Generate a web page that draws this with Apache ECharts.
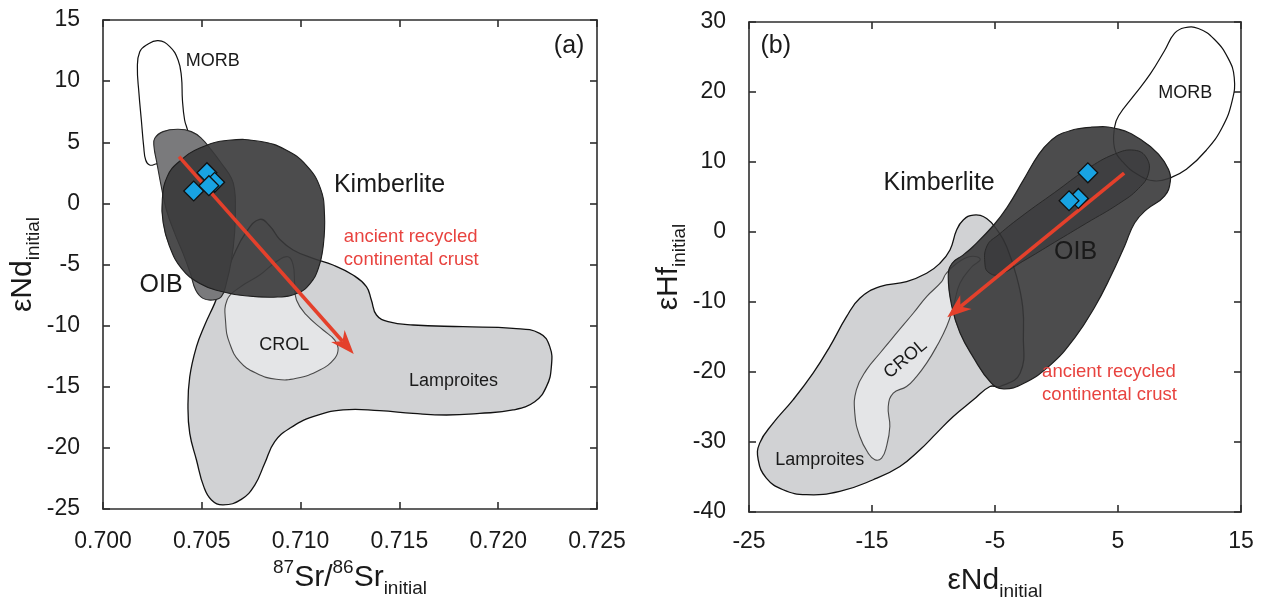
<!DOCTYPE html>
<html>
<head>
<meta charset="utf-8">
<script src="https://cdn.jsdelivr.net/npm/echarts/dist/echarts.min.js"></script>
<style>
html,body{margin:0;padding:0;background:#fff;}
#c{width:1265px;height:601px;}
</style>
</head>
<body>
<div id="c"></div>
<script>
// ---------- DATA (panel a: 87Sr/86Sr vs eNd) ----------
const srTicks = [0.700, 0.705, 0.710, 0.715, 0.720, 0.725];
const ndTicksA = [-25, -20, -15, -10, -5, 0, 5, 10, 15];
const lamproitesA = [[0.70793,-1.31],[0.70844,-1.85],[0.70894,-2.94],[0.70962,-3.81],[0.71063,-4.50],[0.71164,-5.04],[0.71265,-5.86],[0.71333,-6.81],[0.71358,-7.90],[0.71384,-9.13],[0.71443,-9.68],[0.71569,-9.95],[0.71822,-10.09],[0.72075,-10.22],[0.72210,-10.63],[0.72261,-11.72],[0.72269,-13.36],[0.72244,-14.99],[0.72185,-16.22],[0.72075,-16.90],[0.71906,-17.18],[0.71738,-17.31],[0.71569,-17.18],[0.71400,-16.96],[0.71215,-16.90],[0.71063,-17.45],[0.70945,-18.40],[0.70869,-19.49],[0.70818,-21.27],[0.70768,-23.04],[0.70700,-24.21],[0.70608,-24.67],[0.70549,-24.26],[0.70510,-23.17],[0.70473,-20.99],[0.70439,-18.81],[0.70430,-16.63],[0.70439,-14.18],[0.70473,-11.72],[0.70515,-9.95],[0.70565,-8.18],[0.70608,-6.40],[0.70658,-4.36],[0.70726,-2.31]];
const crolA = [[0.70936,-4.36],[0.70962,-5.04],[0.70970,-6.54],[0.70979,-7.90],[0.71029,-9.13],[0.71114,-10.36],[0.71173,-11.18],[0.71190,-11.86],[0.71173,-12.68],[0.71097,-13.63],[0.70979,-14.31],[0.70877,-14.39],[0.70776,-13.90],[0.70692,-12.95],[0.70641,-11.45],[0.70621,-9.81],[0.70628,-7.90],[0.70692,-6.87],[0.70793,-5.86],[0.70877,-4.77]];
const morbA = [[0.70220,12.96],[0.70279,13.31],[0.70338,12.82],[0.70380,11.73],[0.70397,10.36],[0.70402,8.46],[0.70413,6.82],[0.70430,5.73],[0.70422,4.09],[0.70338,3.55],[0.70267,3.22],[0.70236,3.14],[0.70216,3.55],[0.70206,4.64],[0.70194,6.82],[0.70182,9.00],[0.70174,11.18],[0.70186,12.41]];
const oibA = [[0.70262,5.32],[0.70304,5.87],[0.70380,6.06],[0.70447,5.87],[0.70498,5.32],[0.70548,4.37],[0.70599,3.28],[0.70650,2.05],[0.70666,1.09],[0.70670,-0.27],[0.70666,-2.45],[0.70650,-4.63],[0.70624,-6.54],[0.70599,-7.63],[0.70557,-7.90],[0.70506,-7.77],[0.70469,-7.09],[0.70442,-5.72],[0.70405,-4.09],[0.70363,-2.45],[0.70321,-0.54],[0.70295,1.37],[0.70273,3.28],[0.70258,4.64]];
const kimberliteA = [[0.70635,5.16],[0.70800,5.06],[0.70924,4.38],[0.71028,3.13],[0.71100,1.25],[0.71121,-0.94],[0.71115,-3.44],[0.71090,-5.31],[0.71048,-6.56],[0.70986,-7.34],[0.70883,-7.66],[0.70718,-7.56],[0.70594,-7.19],[0.70490,-6.56],[0.70397,-5.31],[0.70335,-3.44],[0.70304,-1.56],[0.70300,0.31],[0.70325,2.19],[0.70387,3.44],[0.70490,4.53]];
const sampleSr = [0.70526, 0.70565, 0.70459, 0.70536];
const sampleNdA = [2.51, 1.72, 1.01, 1.45];
const arrowA = [0.70385, 3.82, 0.71269, -12.32];

// ---------- DATA (panel b: eNd vs eHf) ----------
const ndTicksB = [-25, -15, -5, 5, 15];
const hfTicks = [-40, -30, -20, -10, 0, 10, 20, 30];
const lamproitesB = [[-6.76,2.42],[-5.68,1.94],[-4.73,0.04],[-4.05,-2.10],[-3.24,-6.38],[-2.75,-10.66],[-2.69,-14.46],[-2.96,-20.17],[-4.59,-22.07],[-5.41,-22.07],[-6.76,-23.98],[-8.39,-26.35],[-9.75,-28.73],[-11.10,-31.11],[-12.73,-33.49],[-14.90,-35.39],[-17.62,-37.06],[-20.33,-37.53],[-22.23,-36.82],[-23.59,-35.15],[-24.25,-32.54],[-24.13,-30.16],[-23.04,-27.31],[-21.42,-23.98],[-19.79,-20.17],[-18.43,-16.37],[-17.07,-12.09],[-15.99,-9.47],[-14.36,-7.81],[-12.19,-7.09],[-10.56,-5.90],[-9.48,-4.48],[-8.66,-2.57],[-8.12,0.28],[-7.58,1.71]];
const crolB = [[-9.34,-7.09],[-10.56,-9.23],[-11.65,-11.61],[-13.01,-14.46],[-14.36,-17.32],[-15.45,-19.70],[-16.27,-22.55],[-16.40,-25.88],[-15.99,-29.21],[-15.31,-31.59],[-14.77,-32.54],[-14.22,-32.30],[-13.82,-30.63],[-13.55,-27.78],[-13.68,-24.93],[-13.27,-23.02],[-12.19,-22.07],[-11.38,-20.65],[-10.56,-18.74],[-9.75,-16.37],[-8.93,-13.51],[-8.39,-10.66],[-7.85,-7.33],[-6.9,-5.0],[-6.2,-3.9],[-7.0,-3.5],[-8.2,-4.6],[-9.0,-6.0]];
const morbB = [[4.72,14.96],[5.05,16.60],[6.35,19.61],[7.64,22.62],[8.78,25.90],[9.59,28.36],[10.40,29.18],[11.53,29.07],[12.83,27.54],[13.96,24.80],[14.45,22.07],[14.29,18.79],[13.48,14.96],[12.18,11.68],[10.56,8.95],[9.26,7.74],[7.97,7.30],[6.67,8.13],[5.37,10.04],[4.72,11.95]];
const kimberliteB = [[0.51,14.14],[2.78,14.96],[5.05,14.69],[6.99,13.05],[8.29,11.13],[9.10,8.95],[9.26,7.30],[8.78,5.12],[7.32,3.20],[6.35,1.29],[5.54,-1.99],[4.40,-6.37],[3.10,-10.74],[1.48,-15.12],[-0.46,-18.95],[-2.73,-21.68],[-4.3,-22.4],[-5.3,-21.6],[-6.8,-17.8],[-7.85,-14.4],[-8.5,-10.7],[-8.8,-6.4],[-8.5,-4.5],[-7.6,-3.3],[-6.8,-2.1],[-5.1,1.0],[-4.03,3.48],[-2.73,7.30],[-1.43,11.13],[-0.46,13.05]];
const oibB = [[-5.81,-4.73],[-5.65,-1.99],[-4.68,-0.35],[-2.73,2.38],[-0.14,5.66],[2.46,8.95],[4.72,11.13],[6.35,11.68],[7.32,10.59],[7.48,8.40],[6.67,6.21],[5.05,4.02],[2.46,1.29],[-0.14,-1.45],[-2.73,-4.18],[-4.68,-6.09],[-5.49,-5.82]];
const sampleNdB = [2.55, 1.78, 1.02];
const sampleHf = [8.45, 4.80, 4.46];
const arrowB = [5.5, 8.4, -8.88, -12.18];

// ---------- text annotations (label, anchor in data units) ----------
const FONT = '"Liberation Sans", Arial, Helvetica, sans-serif';
const RED = '#e8433f';
const notesA = [
  {t:'(a)', x:0.72359, y:12.87, fs:25},
  {t:'MORB', x:0.70556, y:11.62, fs:18},
  {t:'Kimberlite', x:0.71450, y:1.51, fs:25},
  {t:'OIB', x:0.70294, y:-6.72, fs:25},
  {t:'ancient recycled\ncontinental crust', x:0.71219, y:-3.69, fs:18.5, c:RED, al:'left', lh:23},
  {t:'CROL', x:0.70917, y:-11.56, fs:18},
  {t:'Lamproites', x:0.71774, y:-14.53, fs:18}
];
const notesB = [
  {t:'(b)', x:-22.83, y:26.55, fs:25},
  {t:'MORB', x:10.46, y:19.88, fs:18},
  {t:'Kimberlite', x:-9.54, y:7.03, fs:25},
  {t:'OIB', x:1.55, y:-2.81, fs:25},
  {t:'CROL', x:-12.27, y:-18.15, fs:18, rot:40},
  {t:'Lamproites', x:-19.25, y:-32.54, fs:18},
  {t:'ancient recycled\ncontinental crust', x:-1.17, y:-21.68, fs:18.5, c:RED, al:'left', lh:23}
];

// ---------- helpers ----------
function polySeries(points, xi, yi, style, smooth) {
  return {
    type:'custom', xAxisIndex:xi, yAxisIndex:yi, silent:true, clip:true,
    data: points,
    renderItem: function (params, api) {
      if (params.dataIndex !== 0) return null;
      const pts = points.map(p => api.coord(p));
      return {type:'polygon', shape:{points:pts, smooth: smooth == null ? 0.45 : smooth}, style: style};
    }
  };
}
function arrowSeries(a, xi, yi) {
  return {
    type:'custom', xAxisIndex:xi, yAxisIndex:yi, silent:true,
    data:[[a[0], a[1]], [a[2], a[3]]],
    renderItem: function (params, api) {
      if (params.dataIndex !== 0) return null;
      const p1 = api.coord([a[0], a[1]]), p2 = api.coord([a[2], a[3]]);
      const dx = p2[0]-p1[0], dy = p2[1]-p1[1], L = Math.hypot(dx, dy);
      const ux = dx/L, uy = dy/L, px = -uy, py = ux;
      const hl = 24, hw = 9, notch = 17;
      const base = [p2[0]-ux*hl, p2[1]-uy*hl];
      const nb = [p2[0]-ux*notch, p2[1]-uy*notch];
      return {type:'group', children:[
        {type:'line', shape:{x1:p1[0], y1:p1[1], x2:nb[0], y2:nb[1]}, style:{stroke:'#e4402b', lineWidth:3.6}},
        {type:'polygon', shape:{points:[p2, [base[0]+px*hw, base[1]+py*hw], nb, [base[0]-px*hw, base[1]-py*hw]]}, style:{fill:'#e4402b'}}
      ]};
    }
  };
}
function textSeries(notes, xi, yi) {
  return {
    type:'custom', xAxisIndex:xi, yAxisIndex:yi, silent:true, clip:false,
    data: notes.map(n => [n.x, n.y]),
    renderItem: function (params, api) {
      const n = notes[params.dataIndex];
      const p = api.coord([n.x, n.y]);
      return {type:'text', x:p[0], y:p[1], rotation:(n.rot||0)*Math.PI/180,
        style:{text:n.t, fontSize:n.fs, fontFamily:FONT, fill:n.c||'#1a1a1a',
          align:n.al||'center', verticalAlign:'middle', lineHeight:n.lh||n.fs}};
    }
  };
}
function diamonds(xs, ys, xi, yi) {
  return {type:'scatter', xAxisIndex:xi, yAxisIndex:yi, silent:true,
    data: xs.map((v,i) => [v, ys[i]]),
    symbol:'rect', symbolRotate:45, symbolSize:14,
    itemStyle:{color:'#18a3e3', borderColor:'#111', borderWidth:1.3, opacity:1}, z:10};
}

const axisLineStyle = {color:'#2e2e2e', width:1.6};
const rich = {
  m:{fontSize:30, fontFamily:FONT, color:'#1a1a1a', lineHeight:40, verticalAlign:'middle'},
  s:{fontSize:19, fontFamily:FONT, color:'#1a1a1a', lineHeight:16, verticalAlign:'bottom'},
  u:{fontSize:19, fontFamily:FONT, color:'#1a1a1a', lineHeight:24, verticalAlign:'top'}
};
function mainAxis(dim, grid, pos, min, max, ticks, fmt, name, nameGap, margin) {
  return {
    type:'value', gridIndex:grid, position:pos, min:min, max:max,
    axisLine:{show:true, onZero:false, lineStyle:axisLineStyle},
    axisTick:{show:true, inside:true, length:7, customValues:ticks, lineStyle:axisLineStyle},
    axisLabel:{show:true, customValues:ticks, formatter:fmt, fontSize:23, fontFamily:FONT, color:'#1a1a1a', margin:margin},
    splitLine:{show:false},
    name:name, nameLocation:'middle', nameGap:nameGap,
    nameTextStyle:{rich:rich}
  };
}
function mirrorAxis(grid, pos, min, max, ticks) {
  return {
    type:'value', gridIndex:grid, position:pos, min:min, max:max,
    axisLine:{show:true, onZero:false, lineStyle:axisLineStyle},
    axisTick:{show:true, inside:true, length:7, customValues:ticks, lineStyle:axisLineStyle},
    axisLabel:{show:false}, splitLine:{show:false}
  };
}

const chart = echarts.init(document.getElementById('c'), null, {renderer:'canvas'});
const option = {
  animation:false,
  backgroundColor:'#ffffff',
  grid:[
    {left:103, top:20, width:494, height:489, containLabel:false, outerBoundsMode:'none'},
    {left:749, top:22, width:492, height:490, containLabel:false, outerBoundsMode:'none'}
  ],
  xAxis:[
    mainAxis('x', 0, 'bottom', 0.700, 0.725, srTicks, v => v.toFixed(3), '{u|87}{m|Sr/}{u|86}{m|Sr}{s|initial}', 47, 21),
    mirrorAxis(0, 'top', 0.700, 0.725, srTicks),
    mainAxis('x', 1, 'bottom', -25, 15, ndTicksB, v => String(v), '{m|εNd}{s|initial}', 49, 18),
    mirrorAxis(1, 'top', -25, 15, ndTicksB)
  ],
  yAxis:[
    mainAxis('y', 0, 'left', -25, 15, ndTicksA, v => String(v), '{m|εNd}{s|initial}', 52, 23),
    mirrorAxis(0, 'right', -25, 15, ndTicksA),
    mainAxis('y', 1, 'left', -40, 30, hfTicks, v => String(v), '{m|εHf}{s|initial}', 56, 23),
    mirrorAxis(1, 'right', -40, 30, hfTicks)
  ],
  series:[
    // panel a
    polySeries(lamproitesA, 0, 0, {fill:'#d1d2d4', stroke:'#111', lineWidth:1.3}),
    polySeries(crolA, 0, 0, {fill:'#e4e5e7', stroke:'#4a4a4a', lineWidth:1.1}),
    polySeries(morbA, 0, 0, {fill:'#ffffff', stroke:'#111', lineWidth:1.2}),
    polySeries(oibA, 0, 0, {fill:'#7a7a7c', stroke:'#2a2a2a', lineWidth:1.1}),
    polySeries(kimberliteA, 0, 0, {fill:'rgba(56,56,58,0.9)', stroke:'#1e1e1e', lineWidth:1.1}),
    arrowSeries(arrowA, 0, 0),
    diamonds(sampleSr, sampleNdA, 0, 0),
    textSeries(notesA, 0, 0),
    // panel b
    polySeries(lamproitesB, 2, 2, {fill:'#d1d2d4', stroke:'#111', lineWidth:1.3}),
    polySeries(crolB, 2, 2, {fill:'#e4e5e7', stroke:'#4a4a4a', lineWidth:1.1}),
    polySeries(morbB, 2, 2, {fill:'#ffffff', stroke:'#111', lineWidth:1.2}),
    polySeries(kimberliteB, 2, 2, {fill:'rgba(56,56,58,0.9)', stroke:'#1e1e1e', lineWidth:1.2}),
    polySeries(oibB, 2, 2, {fill:'rgba(40,40,42,0.35)', stroke:'#2a2a2a', lineWidth:1}),
    arrowSeries(arrowB, 2, 2),
    diamonds(sampleNdB, sampleHf, 2, 2),
    textSeries(notesB, 2, 2)
  ]
};
chart.setOption(option);
</script>
</body>
</html>
